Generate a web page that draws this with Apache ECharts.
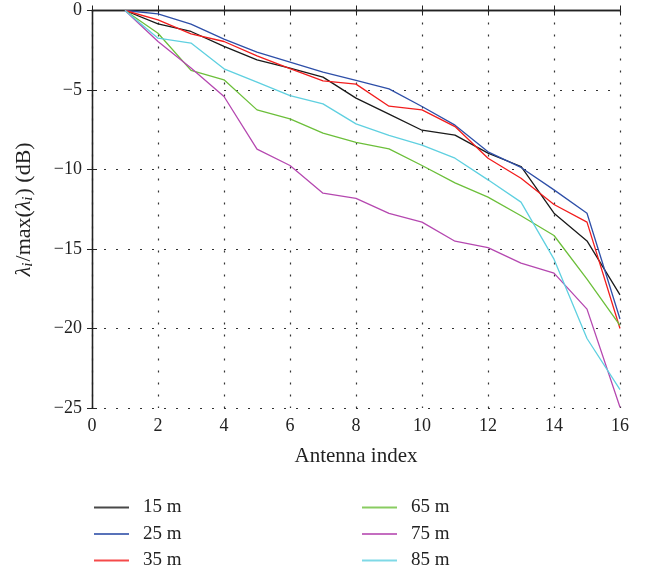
<!DOCTYPE html>
<html>
<head>
<meta charset="utf-8">
<script src="https://cdn.jsdelivr.net/npm/echarts@6/dist/echarts.min.js"></script>
<style>html,body{margin:0;padding:0;background:#fff}#c{width:647px;height:574px}</style>
</head>
<body>
<div id="c"></div>
<script>
var antennaIndex = [1,2,3,4,5,6,7,8,9,10,11,12,13,14,15,16];
var seriesNames = ['15 m','25 m','35 m','65 m','75 m','85 m'];
var s15 = [0,-0.84,-1.32,-2.26,-3.10,-3.62,-4.19,-5.51,-6.52,-7.53,-7.84,-8.97,-9.81,-12.75,-14.49,-17.88];
var s25 = [0,-0.21,-0.86,-1.80,-2.62,-3.25,-3.88,-4.40,-4.93,-6.04,-7.21,-8.89,-9.87,-11.28,-12.75,-19.4];
var s35 = [0,-0.59,-1.47,-1.95,-2.85,-3.65,-4.42,-4.63,-6.02,-6.25,-7.30,-9.29,-10.55,-12.2,-13.31,-20.0];
var s65 = [0,-1.43,-3.77,-4.36,-6.25,-6.81,-7.71,-8.30,-8.70,-9.75,-10.84,-11.74,-12.91,-14.15,-16.90,-19.8];
var s75 = [0,-1.95,-3.62,-5.41,-8.72,-9.75,-11.49,-11.82,-12.76,-13.31,-14.51,-14.91,-15.89,-16.52,-18.78,-24.95];
var s85 = [0,-1.74,-2.05,-3.67,-4.51,-5.35,-5.87,-7.13,-7.86,-8.47,-9.29,-10.65,-12.05,-15.64,-20.63,-23.85];
var xTicks = [0,2,4,6,8,10,12,14,16];
var yTicks = [0,-5,-10,-15,-20,-25];
var colors = ['#1a1a1a','#2e4fa8','#f21d1d','#6cbf3a','#b548b0','#5fd0e0'];
var allSeries = [s15,s25,s35,s65,s75,s85];

var FONT = 'Liberation Serif';
var chart = echarts.init(document.getElementById('c'));
var axisCommon = {
  axisLine: {show: true, lineStyle: {color: '#222', width: 1.3}},
  axisTick: {show: true, inside: true, length: 5, lineStyle: {color: '#222'}}
};
var series = allSeries.map(function (vals, k) {
  return {
    name: seriesNames[k], type: 'line', xAxisIndex: 0, yAxisIndex: 0,
    symbol: 'none', lineStyle: {width: 1.3, color: colors[k]}, itemStyle: {color: colors[k]},
    data: antennaIndex.map(function (x, i) { return [x, vals[i]]; })
  };
});
var legendCommon = {
  orient: 'vertical', icon: 'rect', itemWidth: 35, itemHeight: 2, itemGap: 7.5,
  padding: 0, height: 76,
  itemStyle: {opacity: 0.8},
  textStyle: {fontFamily: FONT, fontSize: 19, color: '#222', padding: [0,0,0,9], lineHeight: 19}
};
chart.setOption({
  animation: false,
  backgroundColor: '#fff',
  grid: {left: 92, right: 27, top: 10.5, bottom: 166},
  legend: [
    Object.assign({left: 94, top: 498, data: seriesNames.slice(0,3)}, legendCommon),
    Object.assign({left: 362, top: 498, data: seriesNames.slice(3)}, legendCommon)
  ],
  xAxis: [
    Object.assign({
      type: 'value', min: 0, max: 16, interval: 2, position: 'bottom',
      name: 'Antenna index', nameLocation: 'middle', nameGap: 38,
      nameTextStyle: {fontFamily: FONT, fontSize: 21, color: '#222'},
      axisLabel: {fontFamily: FONT, fontSize: 18, color: '#222', margin: 9},
      splitLine: {show: true, lineStyle: {color: '#333', type: [2,10], width: 1.2}}
    }, axisCommon),
    Object.assign({
      type: 'value', min: 0, max: 16, interval: 2, position: 'top',
      axisLabel: {show: false}, splitLine: {show: false}
    }, axisCommon)
  ],
  yAxis: [
    Object.assign({
      type: 'value', min: -25, max: 0, interval: 5, position: 'left',
      name: '{it|λ}{sub|i}{n|/max(}{it|λ}{sub|i}{n|) (dB)}', nameLocation: 'middle', nameGap: 56,
      nameTextStyle: {
        fontFamily: FONT, fontSize: 22, color: '#222',
        rich: {
          it: {fontFamily: FONT, fontSize: 22, fontStyle: 'italic', color: '#222'},
          n: {fontFamily: FONT, fontSize: 22, color: '#222'},
          sub: {fontFamily: FONT, fontSize: 15, fontStyle: 'italic', color: '#222', verticalAlign: 'bottom', padding: [8,1,0,0]}
        }
      },
      axisLabel: {fontFamily: FONT, fontSize: 18, color: '#222', margin: 10,
        formatter: function (v) { return v < 0 ? '\u2212' + Math.abs(v) : String(v); }},
      splitLine: {show: true, lineStyle: {color: '#333', type: [2,10], width: 1.2}}
    }, axisCommon),
    Object.assign({
      type: 'value', min: -25, max: 0, interval: 5, position: 'right',
      axisLabel: {show: false}, splitLine: {show: false}
    }, axisCommon)
  ],
  series: series
});
</script>
</body>
</html>
